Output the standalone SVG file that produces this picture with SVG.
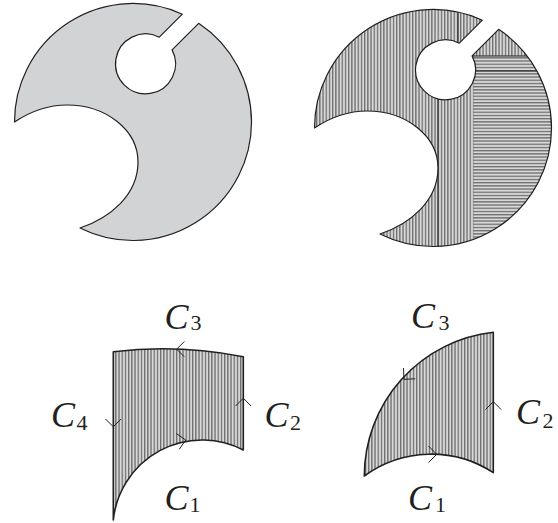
<svg xmlns="http://www.w3.org/2000/svg" xmlns:xlink="http://www.w3.org/1999/xlink" width="558" height="523" viewBox="0 0 558 523">
<style>
.outline{fill:none;stroke:#231f20;stroke-width:1.2;stroke-linejoin:round}
.outline2{fill:none;stroke:#231f20;stroke-width:1.6;stroke-linejoin:round}
.divider{fill:none;stroke:#231f20;stroke-width:1.1}
.chev{fill:none;stroke:#231f20;stroke-width:1;stroke-linejoin:miter}
.lbl{font-family:"Liberation Serif","Times New Roman",serif;font-size:36px;font-style:italic;fill:#231f20}
.sub{font-size:22px;font-style:normal}
</style>
<defs>
<path id="disk" d="M182.3,14.2 A118.5,118.5 0 0 0 14.5,122 C31,111 48,105 67,105 C106,105 138,130 138,162 C138,195 110,218 80,228 A118.5,118.5 0 0 0 251.5,122 A118.5,118.5 0 0 0 198.65,23.35 L172.1,49.9 A30,30 0 1 1 159.3,37.2 Z"/>
<clipPath id="diskClip"><use xlink:href="#disk"/></clipPath>
<pattern id="vh" width="3.2" height="10" patternUnits="userSpaceOnUse">
<rect width="3.2" height="10" fill="#d8d8d8"/><rect width="1.3" height="10" fill="#6c6c6c"/>
</pattern>
<pattern id="hh" width="10" height="3.2" patternUnits="userSpaceOnUse">
<rect width="10" height="3.2" fill="#d8d8d8"/><rect width="10" height="1.3" fill="#6c6c6c"/>
</pattern>
</defs>

<g id="disk-left">
<use xlink:href="#disk" fill="#d1d3d4"/>
<use xlink:href="#disk" class="outline"/>
</g>

<g id="disk-right" transform="translate(300,6)">
<use xlink:href="#disk" fill="url(#vh)"/>
<g clip-path="url(#diskClip)">
<rect x="173.5" y="50" width="90" height="200" fill="url(#hh)"/>
<path class="divider" d="M172,50 H240 M175.5,65 H245 M138,92.6 V245 M158,36.5 V2"/>
</g>
<use xlink:href="#disk" class="outline"/>
</g>

<g id="region-left">
<path d="M113.3,351.7 Q178,344 243.3,356.7 L243.3,450 A89.3,89.3 0 0 0 113.3,520 Z" fill="url(#vh)"/>
<path d="M113.3,351.7 Q178,344 243.3,356.7 L243.3,450 A89.3,89.3 0 0 0 113.3,520 Z" class="outline2"/>
<text class="lbl" x="164.5" y="329">C<tspan class="sub" x="190.5" y="330">3</tspan></text>
<text class="lbl" x="51" y="427">C<tspan class="sub" x="76.5" y="430">4</tspan></text>
<text class="lbl" x="264.5" y="427">C<tspan class="sub" x="290" y="430">2</tspan></text>
<text class="lbl" x="164.5" y="510">C<tspan class="sub" x="189.5" y="511.5">1</tspan></text>
</g>

<g id="region-right">
<path d="M364.3,476 A145,145 0 0 1 493.3,332.3 L493.3,472.7 A113.3,113.3 0 0 0 364.3,476 Z" fill="url(#vh)"/>
<path d="M364.3,476 A145,145 0 0 1 493.3,332.3 L493.3,472.7 A113.3,113.3 0 0 0 364.3,476 Z" class="outline2"/>
<text class="lbl" x="411" y="328">C<tspan class="sub" x="438.5" y="330">3</tspan></text>
<text class="lbl" x="516" y="424">C<tspan class="sub" x="542.5" y="428">2</tspan></text>
<text class="lbl" x="408" y="510">C<tspan class="sub" x="435" y="511.5">1</tspan></text>
</g>

<g id="connectors">
<path class="chev" d="M184.3,341.5 L176.7,349.2 L184.3,356.8"/>
<path class="chev" d="M105.5,419 L113.3,426.8 L121.1,419"/>
<path class="chev" d="M235.5,406 L243.3,398.2 L251.1,406"/>
<path class="chev" d="M176.4,433.6 L185.7,440 L179.3,449.3"/>
<path class="chev" d="M403.5,368 L404,379.3 L415.3,378.8"/>
<path class="chev" d="M485.5,409.5 L493.3,401.7 L501.1,409.5"/>
<path class="chev" d="M428.5,446 L436.7,454.3 L428.5,462.6"/>
</g>
</svg>
